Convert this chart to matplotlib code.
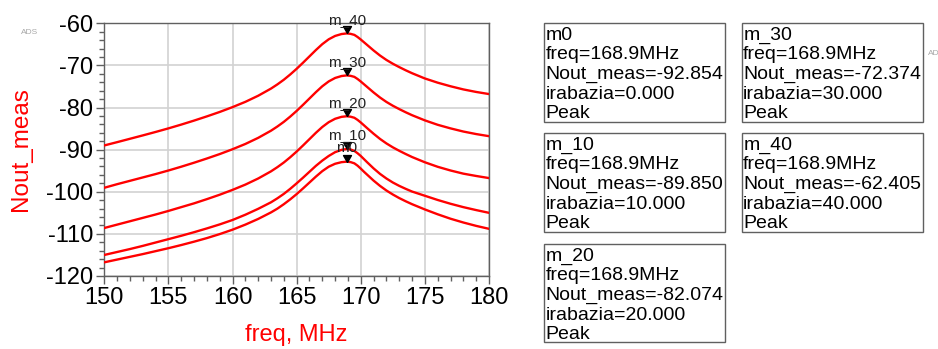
import matplotlib
matplotlib.use("Agg")
import matplotlib.pyplot as plt
from matplotlib.patches import Rectangle
from matplotlib.ticker import MultipleLocator

plt.rcParams['font.family'] = ['Liberation Sans', 'DejaVu Sans']
plt.rcParams['axes.unicode_minus'] = False

# Swept frequency (MHz), sampled more densely around the resonance
freq_mhz = [150, 151, 152, 153, 154, 155, 156, 157, 158, 159, 160, 161, 162, 163,
            163.5, 164, 164.5, 165, 165.5, 166, 166.5, 167, 167.5, 168, 168.5,
            168.9,
            169.2, 169.5, 169.75, 170, 170.25, 170.5,
            171, 171.5, 172, 172.5, 173, 173.5, 174,
            175, 176, 177, 178, 179, 180]

# Nout_meas (dB) for each irabazia setting
nout_0 = [-116.75, -116.1, -115.45, -114.8, -114.1, -113.4, -112.65, -111.85, -111.0, -110.05,
          -109.0, -107.8, -106.45, -104.9,
          -104.0, -102.95, -101.8, -100.55, -99.2, -97.8, -96.4, -95.1, -94.05, -93.35, -92.97,
          -92.854,
          -92.95, -93.25, -93.8, -94.5, -95.25, -95.95,
          -97.35, -98.6, -99.7, -100.65, -101.5, -102.25, -102.95,
          -104.2, -105.35, -106.4, -107.3, -108.1, -108.8]
nout_10 = [-115.0, -114.3, -113.6, -112.85, -112.05, -111.25, -110.45, -109.6, -108.7, -107.75,
           -106.7, -105.45, -104.05, -102.5,
           -101.55, -100.5, -99.3, -98.0, -96.65, -95.25, -93.85, -92.6, -91.5, -90.6, -90.05,
           -89.850,
           -89.95, -90.3, -90.85, -91.5, -92.25, -93.0,
           -94.45, -95.75, -96.85, -97.8, -98.6, -99.3, -99.95,
           -100.95, -101.95, -102.85, -103.65, -104.35, -105.0]
nout_20 = [-108.6, -107.8, -107.0, -106.2, -105.4, -104.55, -103.65, -102.75, -101.75, -100.7,
           -99.55, -98.3, -96.85, -95.15,
           -94.15, -93.05, -91.8, -90.45, -89.0, -87.5, -86.0, -84.62, -83.48, -82.67, -82.21,
           -82.074,
           -82.17, -82.43, -82.93, -83.55, -84.22, -84.9,
           -86.22, -87.45, -88.52, -89.45, -90.27, -91.03, -91.75,
           -93.0, -94.07, -94.95, -95.7, -96.25, -96.75]
nout_30 = [-99.05, -98.2, -97.4, -96.6, -95.8, -94.95, -94.05, -93.1, -92.1, -91.05,
           -89.9, -88.65, -87.2, -85.5,
           -84.5, -83.4, -82.15, -80.8, -79.35, -77.85, -76.35, -74.95, -73.8, -72.98, -72.52,
           -72.374,
           -72.47, -72.72, -73.22, -73.82, -74.47, -75.12,
           -76.42, -77.62, -78.67, -79.57, -80.37, -81.12, -81.82,
           -83.05, -84.1, -84.95, -85.7, -86.3, -86.8]
nout_40 = [-89.0, -88.22, -87.42, -86.62, -85.8, -84.95, -84.05, -83.1, -82.1, -81.05,
           -79.9, -78.65, -77.2, -75.5,
           -74.5, -73.4, -72.15, -70.8, -69.35, -67.85, -66.35, -64.95, -63.8, -63.0, -62.55,
           -62.405,
           -62.5, -62.75, -63.25, -63.85, -64.5, -65.15,
           -66.45, -67.65, -68.7, -69.6, -70.4, -71.15, -71.85,
           -73.1, -74.1, -74.95, -75.7, -76.3, -76.8]

irabazia = [0, 10, 20, 30, 40]
marker_names = ["m0", "m_10", "m_20", "m_30", "m_40"]
marker_freq = 168.9
series = [nout_0, nout_10, nout_20, nout_30, nout_40]

W, H = 938, 349
fig = plt.figure(figsize=(W / 100, H / 100), dpi=100)
fig.patch.set_facecolor("white")

# plot frame in pixel units
ax_l, ax_r, ax_t, ax_b = 104.3, 489.0, 23.3, 276.0
ax = fig.add_axes([ax_l / W, 1 - ax_b / H, (ax_r - ax_l) / W, (ax_b - ax_t) / H])

for ys in series:
    ax.plot(freq_mhz, ys, color="#ff0000", lw=1.7, zorder=3,
            solid_capstyle="round", solid_joinstyle="round")

ax.set_xlim(150, 180)
ax.set_ylim(-120, -60)
ax.xaxis.set_major_locator(MultipleLocator(5))
ax.xaxis.set_minor_locator(MultipleLocator(1))
ax.yaxis.set_major_locator(MultipleLocator(10))
ax.yaxis.set_minor_locator(MultipleLocator(2))
ax.grid(True, which="major", color="#d2d2d2", lw=1.2, zorder=0)
for sp in ax.spines.values():
    sp.set_color("#606060")
    sp.set_linewidth(1.0)
ax.tick_params(which="major", direction="out", length=6, width=1, color="#606060",
               labelsize=17, pad=2, labelcolor="black")
ax.tick_params(which="minor", direction="out", length=3.5, width=1, color="#606060")

# peak markers: downward triangle with its tip on the trace
tri = [(0, 0), (-4, 7), (4, 7), (0, 0)]
idx = freq_mhz.index(marker_freq)
for name, ys in zip(marker_names, series):
    ax.plot([marker_freq], [ys[idx]], linestyle="none", marker=tri, ms=10,
            color="black", zorder=5, clip_on=False)
    ax.annotate(name, (marker_freq, ys[idx]), xytext=(0, 7), textcoords="offset points",
                ha="center", va="baseline", fontsize=11, color="#222222",
                annotation_clip=False, zorder=6)

# axis titles
fig.text(21 / W, 1 - 149.5 / H, "Nout_meas", rotation=90, ha="center", va="center",
         fontsize=17.5, color="#ff0000")
fig.text((ax_l + ax_r) / 2 / W, 1 - 341 / H, "freq, MHz", ha="center", va="baseline",
         fontsize=17, color="#ff0000")

# small tool tags
fig.text(20.7 / W, 1 - 34 / H, "ADS", fontsize=6, color="#a8a8a8", va="baseline")
fig.text(928 / W, 1 - 55 / H, "AD", fontsize=6, color="#a8a8a8", va="baseline")

# marker readout boxes
col_x = [(544.3, 725.3), (741.7, 923.3)]
row_y = [(23.3, 122.3), (133.3, 232.3), (244.0, 342.3)]
layout = {"m0": (0, 0), "m_30": (1, 0), "m_10": (0, 1), "m_40": (1, 1), "m_20": (0, 2)}
for name, ira, ys in zip(marker_names, irabazia, series):
    c, r = layout[name]
    x0, x1 = col_x[c]
    y0, y1 = row_y[r]
    fig.add_artist(Rectangle((x0 / W, 1 - y1 / H), (x1 - x0) / W, (y1 - y0) / H,
                             transform=fig.transFigure, fill=False,
                             edgecolor="#606060", lw=1.0))
    lines = [name,
             f"freq={marker_freq:.1f}MHz",
             f"Nout_meas={ys[idx]:.3f}",
             f"irabazia={ira:.3f}",
             "Peak"]
    for k, s in enumerate(lines):
        fig.text((x0 + 1.5) / W, 1 - (y0 + 16.4 + 19.7 * k) / H, s, fontsize=14,
                 color="black", ha="left", va="baseline")

fig.savefig("out.png", dpi=100, facecolor="white")
